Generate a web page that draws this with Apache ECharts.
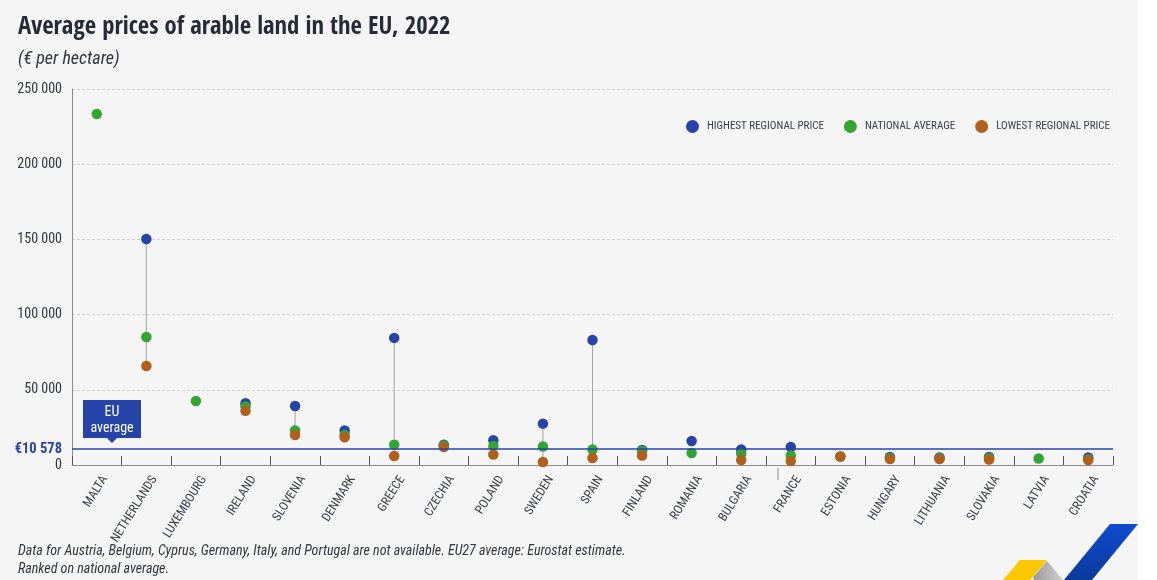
<!DOCTYPE html>
<html>
<head>
<meta charset="utf-8">
<style>
  html, body { margin: 0; padding: 0; background: #fff; }
  #chart { width: 1157px; height: 580px; }
</style>
<script src="https://cdn.jsdelivr.net/npm/echarts@6/dist/echarts.min.js"></script>
</head>
<body>
<div id="chart"></div>
<script>
var FONT = '"Roboto Condensed", "Noto Sans", sans-serif';
var TITLE_FONT = '"Open Sans Condensed", "Roboto Condensed", sans-serif';

var countries = ['MALTA', 'NETHERLANDS', 'LUXEMBOURG', 'IRELAND', 'SLOVENIA', 'DENMARK', 'GREECE', 'CZECHIA', 'POLAND', 'SWEDEN', 'SPAIN', 'FINLAND', 'ROMANIA', 'BULGARIA', 'FRANCE', 'ESTONIA', 'HUNGARY', 'LITHUANIA', 'SLOVAKIA', 'LATVIA', 'CROATIA'];
var highest = [null, 150300, null, 41000, 39200, 23000, 84500, 13500, 16500, 27500, 83100, 10000, 16000, 10300, 12000, null, 5300, 5000, 5300, null, 5000];
var national = [233400, 85100, 42500, 39000, 23000, 20000, 13500, 13000, 12700, 12300, 10300, 9300, 8000, 7600, 6300, 5600, 4700, 4700, 4700, 4300, 4000];
var lowest = [null, 65800, null, 36000, 20000, 18500, 6000, 12000, 7000, 2000, 4700, 6300, null, 3300, 2600, 5600, 4000, 4000, 3600, null, 3300];
var euAverage = 10578;
var yTicks = { min: 0, max: 250000, step: 50000 };

var chart = echarts.init(document.getElementById('chart'));

function spaced(v) {
  return String(v).replace(/\B(?=(\d{3})+$)/g, ' ');
}

// vertical stem between the highest and the lowest point of a country
function renderStem(params, api) {
  var top = api.coord([api.value(0), api.value(1)]);
  var bottom = api.coord([api.value(0), api.value(2)]);
  return {
    type: 'line',
    shape: { x1: top[0], y1: top[1], x2: bottom[0], y2: bottom[1] },
    style: { stroke: '#a3a3a8', lineWidth: 1 }
  };
}

var stems = [];
countries.forEach(function (c, i) {
  if (highest[i] != null && lowest[i] != null) stems.push([i, highest[i], lowest[i]]);
});

function dots(name, values, color) {
  return {
    name: name,
    type: 'scatter',
    data: values,
    symbol: 'circle',
    symbolSize: 10.5,
    itemStyle: { color: color, opacity: 1 },
    z: 4
  };
}

var option = {
  backgroundColor: '#fff',
  animation: false,
  textStyle: { fontFamily: FONT },
  title: [
    { text: 'Average prices of arable land in the EU, 2022', left: 18, top: 15, padding: 0,
      textStyle: { fontFamily: TITLE_FONT, fontSize: 24.7, fontWeight: 'bold', color: '#262b38' } },
    { text: '(€ per hectare)', left: 18, top: 50, padding: 0,
      textStyle: { fontFamily: FONT, fontSize: 18, fontWeight: 'normal', fontStyle: 'italic', color: '#33363f' } },
    { text: 'Data for Austria, Belgium, Cyprus, Germany, Italy, and Portugal are not available. EU27 average: Eurostat estimate.\nRanked on national average.',
      left: 18, top: 543, padding: 0,
      textStyle: { fontFamily: FONT, fontSize: 14, fontWeight: 'normal', fontStyle: 'italic', color: '#33363f', lineHeight: 17.5 } }
  ],
  legend: {
    right: 42,
    top: 115,
    itemWidth: 13,
    itemHeight: 13,
    itemGap: 20,
    icon: 'circle',
    data: ['HIGHEST REGIONAL PRICE', 'NATIONAL AVERAGE', 'LOWEST REGIONAL PRICE'],
    textStyle: { fontFamily: FONT, fontSize: 11, color: '#3c3f4a', padding: [0, 0, 0, 3] }
  },
  grid: { left: 72, right: 44, top: 89, bottom: 115, containLabel: false },
  xAxis: {
    type: 'category',
    data: countries,
    boundaryGap: true,
    axisLine: { lineStyle: { color: '#8c8c8c', width: 1 } },
    axisTick: { show: true, inside: true, length: 9, alignWithLabel: false, lineStyle: { color: '#555', width: 1 } },
    axisLabel: { rotate: 58, fontFamily: FONT, fontSize: 12.5, color: '#3c3f4a', margin: 7, interval: 0, verticalAlign: 'top', padding: [3, 0, 0, 0] }
  },
  yAxis: {
    type: 'value',
    min: yTicks.min,
    max: yTicks.max,
    interval: yTicks.step,
    axisLine: { show: true, lineStyle: { color: '#8c8c8c', width: 1 } },
    axisTick: { show: false },
    axisLabel: { fontFamily: FONT, fontSize: 14, color: '#33363f', margin: 10, formatter: spaced, padding: [2, 0, 0, 0] },
    splitLine: { lineStyle: { type: [3, 2], color: '#d2d2d2', width: 1 } }
  },
  series: [
    {
      type: 'custom',
      renderItem: renderStem,
      data: stems,
      encode: { x: 0, y: [1, 2] },
      silent: true,
      z: 2,
      markLine: {
        silent: true,
        symbol: 'none',
        lineStyle: { color: '#2644a7', width: 1.5, type: 'solid' },
        label: {
          position: 'start',
          distance: 10,
          fontFamily: FONT,
          fontSize: 14.5,
          fontWeight: 'bold',
          color: '#2644a7',
          formatter: '€' + spaced(euAverage)
        },
        data: [{ yAxis: euAverage }]
      }
    },
    dots('HIGHEST REGIONAL PRICE', highest, '#2644a7'),
    dots('NATIONAL AVERAGE', national, '#33a533'),
    dots('LOWEST REGIONAL PRICE', lowest, '#b05f1c')
  ],
  graphic: [
    { type: 'rect', silent: true, z: -10, shape: { x: 0, y: 0, width: 1138, height: 580 }, style: { fill: '#f5f5f5' } },
    // EU average callout
    { type: 'polygon', silent: true, z: 10,
      shape: { points: [[83, 400], [141, 400], [141, 438], [117, 438], [112, 443], [107, 438], [83, 438]] },
      style: { fill: '#2644a7' } },
    { type: 'text', silent: true, z: 11, style: { x: 112, y: 404, text: 'EU\naverage', align: 'center', fill: '#fff',
      font: '14px ' + FONT, lineHeight: 16 } },
    // stray tick under the axis by FRANCE
    { type: 'line', silent: true, shape: { x1: 778, y1: 468, x2: 778, y2: 480 }, style: { stroke: '#8c8c8c', lineWidth: 1 } },
    // logo corner
    { type: 'polygon', silent: true, z: 1, shape: { points: [[1110, 524], [1138, 524], [1092, 580], [1064, 580]] },
      style: { fill: new echarts.graphic.LinearGradient(0, 0, 0, 1, [{ offset: 0, color: '#0f4ad0' }, { offset: 1, color: '#0b3a9a' }]) } },
    { type: 'polygon', silent: true, z: 1, shape: { points: [[1047, 561], [1063, 580], [1034, 580], [1033, 577]] },
      style: { fill: new echarts.graphic.LinearGradient(0, 0, 1, 0, [{ offset: 0, color: '#9a9a9a' }, { offset: 1, color: '#cfcfcf' }]) } },
    { type: 'polygon', silent: true, z: 1, shape: { points: [[1020, 560], [1047, 560], [1030, 580], [1003, 580]] },
      style: { fill: '#fdc800' } }
  ]
};

chart.setOption(option);
</script>
</body>
</html>
